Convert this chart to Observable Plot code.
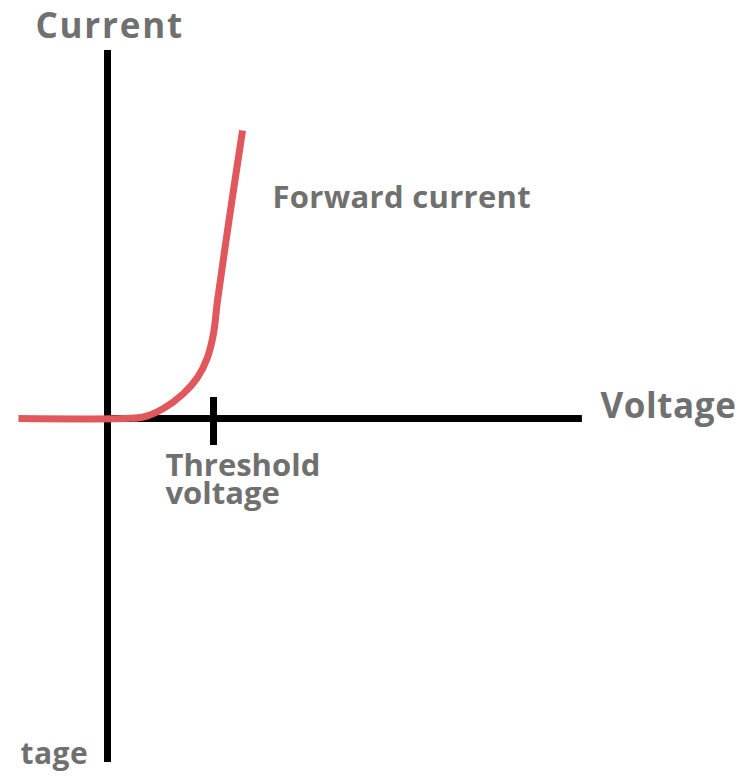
<!DOCTYPE html>
<html>
<head>
<meta charset="utf-8">
<script src="https://cdn.jsdelivr.net/npm/d3@7"></script>
<script src="https://cdn.jsdelivr.net/npm/@observablehq/plot@0.6"></script>
<style>
  html, body { margin: 0; padding: 0; background: #fff; }
  #chart svg { display: block; }
</style>
</head>
<body>
<div id="chart"></div>
<script>
// Diode I-V characteristic (schematic units: threshold voltage = 1)
const voltage = [-0.84, 0.151, 0.34, 0.528, 0.717, 0.849, 0.943, 1.0, 1.038, 1.16, 1.274];
const current = [0, 0, 0.015, 0.10, 0.25, 0.41, 0.61, 0.85, 1.18, 2.08, 2.88];

// Axis extents
const vAxisRange = [-3.44, 3.68];   // vertical (current) axis span
const hAxisRange = [0, 4.48];       // horizontal (voltage) axis span
const thresholdV = 1;
const tickSpan = [-0.27, 0.21];

// Text labels
const labelText = ["Current", "Voltage", "Forward current", "Threshold\nvoltage", "tage"];
const labelV = [-0.68, 4.65, 1.557, 0.547, -0.821];
const labelI = [3.81, 0.01, 2.11, -0.85, -3.45];
const labelSize = [35, 35, 31, 31, 30];
const labelSpacing = [1.8, 0.6, 0.3, 0, 0.5];

const curve = voltage.map((v, k) => ({v, i: current[k]}));
const labels = labelText.map((t, k) => ({t, v: labelV[k], i: labelI[k], s: labelSize[k], ls: labelSpacing[k]}));

const ink = "#000";
const gray = "#707070";
const red = "#e0585c";

const chart = Plot.plot({
  width: 744,
  height: 779,
  margin: 0,
  x: {domain: [-107 / 106, 637 / 106], axis: null},
  y: {domain: [-3.61, 4.18], axis: null},
  marks: [
    Plot.ruleX([0], {y1: vAxisRange[0], y2: vAxisRange[1], stroke: ink, strokeWidth: 7}),
    Plot.ruleY([0], {x1: hAxisRange[0], x2: hAxisRange[1], stroke: ink, strokeWidth: 7}),
    Plot.ruleX([thresholdV], {y1: tickSpan[0], y2: tickSpan[1], stroke: ink, strokeWidth: 7}),
    Plot.line(curve, {x: "v", y: "i", stroke: red, strokeWidth: 7, curve: "catmull-rom", strokeLinecap: "butt"}),
    ...labels.map(d => Plot.text([d], {
      x: "v", y: "i", text: "t",
      textAnchor: "start", lineAnchor: "bottom", lineHeight: 0.9,
      fontSize: d.s, fontWeight: "bold", fontFamily: "Open Sans", fill: gray,
      render: (index, scales, values, dims, context, next) => {
        const g = next(index, scales, values, dims, context);
        d3.select(g).selectAll("text").attr("letter-spacing", d.ls);
        return g;
      }
    }))
  ]
});
document.getElementById("chart").append(chart);
</script>
</body>
</html>
